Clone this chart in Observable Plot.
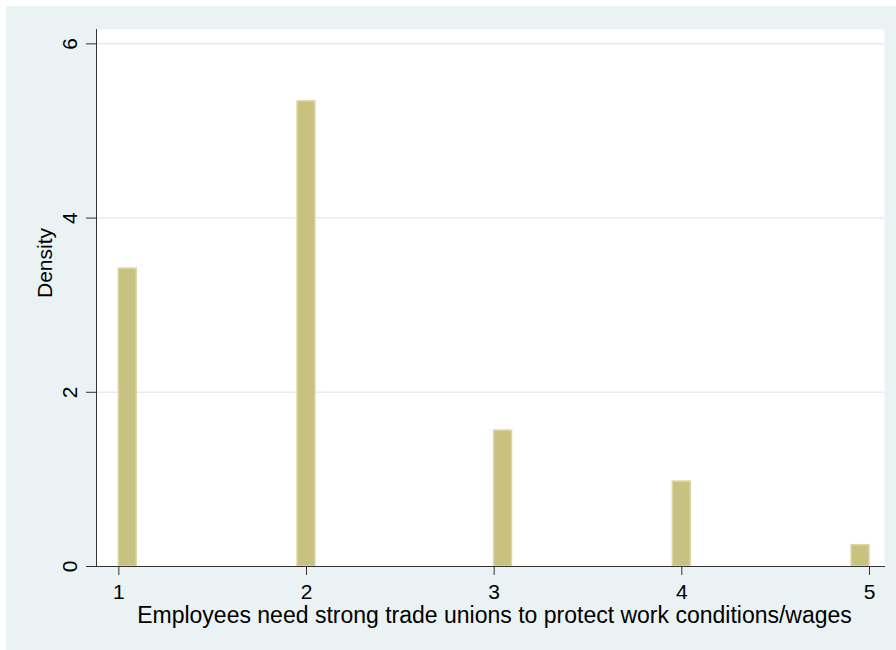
<!DOCTYPE html>
<html>
<head>
<meta charset="utf-8">
<script src="https://cdn.jsdelivr.net/npm/d3@7"></script>
<script src="https://cdn.jsdelivr.net/npm/@observablehq/plot@0.6"></script>
<style>
  html, body { margin: 0; padding: 0; background: #ffffff; }
  #chart { position: absolute; left: 6px; top: 6px; }
  #chart svg { display: block; }
</style>
</head>
<body>
<div id="chart"></div>
<script>
// Survey responses (1 = strongly agree ... 5 = strongly disagree) and their histogram densities
const responses = [1, 2, 3, 4, 5];
const densities = [3.42, 5.34, 1.56, 0.975, 0.245];

// Axis ticks
const xTicks = [1, 2, 3, 4, 5];
const yTicks = [0, 2, 4, 6];

// Histogram binning over the response range
const binCount = 42;
const binMin = 1;
const binMax = 5;

const xTitle = "Employees need strong trade unions to protect work conditions/wages";
const yTitle = "Density";

// Place each response in its bin
const binWidth = (binMax - binMin) / binCount;
const bins = responses.map((v, i) => {
  const k = Math.min(binCount - 1, Math.floor((v - binMin) / binWidth + 1e-9));
  return { x1: binMin + k * binWidth, x2: binMin + (k + 1) * binWidth, density: densities[i] };
});

const chart = Plot.plot({
  width: 890,
  height: 644,
  marginLeft: 90,
  marginRight: 12,
  marginTop: 23,
  marginBottom: 84,
  style: {
    fontFamily: "'Liberation Sans', Arial, Helvetica, sans-serif",
    fontSize: "21px",
    background: "#EAF2F3",
    color: "#000"
  },
  x: { domain: [0.881, 5.08] },
  y: { domain: [0, 6.165] },
  marks: [
    Plot.frame({ fill: "#ffffff", stroke: null }),
    Plot.ruleY(yTicks.filter(d => d > 0), { stroke: "#E3ECEE", strokeWidth: 1.5 }),
    Plot.rect(bins, {
      x1: "x1", x2: "x2", y1: 0, y2: "density",
      fill: "#C9C17F", stroke: "#DCD6A2", strokeWidth: 1.5
    }),
    Plot.frame({ anchor: "left", stroke: "#333333", strokeWidth: 1 }),
    Plot.frame({ anchor: "bottom", stroke: "#333333", strokeWidth: 1 }),
    Plot.axisY({
      ticks: yTicks, tickFormat: d => String(d), tickSize: 10, tickPadding: 16, tickRotate: -90,
      textAnchor: "middle", lineAnchor: "middle",
      fontSize: 21, label: null, stroke: "#333333", fill: "#000"
    }),
    Plot.axisX({
      ticks: xTicks, tickFormat: d => String(d), tickSize: 9, tickPadding: 9,
      fontSize: 21, label: null, stroke: "#333333", fill: "#000"
    }),
    Plot.text([yTitle], {
      text: d => d, frameAnchor: "left", dx: -51, rotate: -90,
      fontSize: 21, fill: "#000"
    }),
    Plot.text([xTitle], {
      text: d => d, frameAnchor: "bottom", dx: 4, dy: 40, lineAnchor: "top",
      fontSize: 23, fill: "#000"
    })
  ]
});

document.getElementById("chart").appendChild(chart);
</script>
</body>
</html>
